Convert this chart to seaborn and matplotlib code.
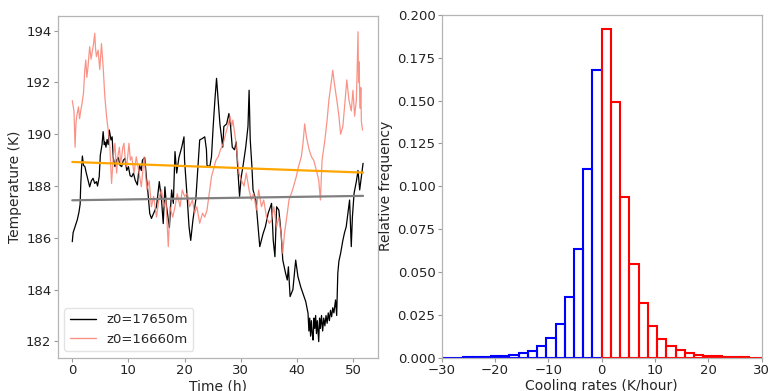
import numpy as np
import pandas as pd
import matplotlib
matplotlib.use("Agg")
import matplotlib.pyplot as plt
import seaborn as sns

# ---- temperature time series (hours, Kelvin) ----
time_a = [0.0, 0.15, 0.3, 0.6, 0.9, 1.2, 1.4, 1.5, 1.65, 1.8, 2.0, 2.25, 2.5, 2.85,
          3.1, 3.4, 3.7, 4.0, 4.3, 4.5, 4.8, 5.0, 5.3, 5.5, 5.7, 5.8, 6.0, 6.2, 6.4,
          6.6, 6.9, 7.1, 7.3, 7.6, 7.9, 8.2, 8.5, 8.8, 9.1, 9.4, 9.7, 10.0, 10.3, 10.6,
          10.9, 11.2, 11.6, 11.8, 12.0, 12.3, 12.5, 12.9, 13.2, 13.5, 13.8, 14.1, 14.5,
          15.0, 15.5, 15.9, 16.2, 16.5, 16.8, 17.3, 17.7, 18.0, 18.3, 18.6, 19.0, 19.5,
          19.9, 20.0, 20.5, 20.8, 21.1, 21.5, 22.0, 22.4, 22.7, 23.2, 23.6, 23.9, 24.0,
          24.5, 24.8, 25.1, 25.4, 25.7, 26.0, 26.3, 26.8, 27.0, 27.5, 27.9, 28.2, 28.5,
          28.9, 29.2, 29.5, 29.8, 30.1, 30.4, 30.9, 31.3, 31.5, 31.7, 32.0, 32.2, 32.7,
          33.1, 33.4, 34.0, 34.4, 34.9, 35.5, 35.8, 36.1, 36.4, 36.8, 37.2, 37.5, 38.0,
          38.3, 38.5, 38.8, 39.3, 39.8, 40.2, 40.7, 41.1, 41.6, 42.0, 42.15, 42.3, 42.45,
          42.6, 42.75, 42.9, 43.05, 43.2, 43.35, 43.5, 43.65, 43.9, 44.05, 44.2, 44.4,
          44.6, 44.8, 45.0, 45.2, 45.4, 45.6, 45.8, 46.0, 46.2, 46.4, 46.6, 46.9, 47.1,
          47.3, 47.5, 47.8, 48.2, 48.5, 48.8, 49.1, 49.4, 49.7, 49.9, 50.2, 50.6, 50.9,
          51.2, 51.5, 51.8]
temp_a = [185.85, 186.2, 186.3, 186.5, 186.7, 187.0, 187.3, 188.0, 188.7, 189.16,
          188.8, 188.75, 188.5, 188.2, 187.97, 188.2, 188.3, 188.1, 188.17, 188.0,
          188.36, 189.2, 189.6, 190.1, 189.6, 189.7, 189.5, 189.8, 189.6, 190.16,
          189.78, 189.9, 189.1, 188.75, 189.0, 189.1, 188.8, 188.75, 189.0, 189.07,
          188.6, 188.75, 188.4, 188.36, 188.5, 188.23, 188.04, 188.5, 188.8, 188.6,
          189.0, 189.1, 188.36, 187.7, 186.94, 186.75, 186.95, 187.2, 188.17, 187.46,
          186.55, 187.97, 187.2, 186.4, 187.85, 187.33, 189.33, 188.5, 189.1, 189.5,
          189.9, 189.0, 187.46, 186.43, 185.9, 186.7, 187.46, 188.75, 189.78, 189.84,
          189.9, 189.4, 188.8, 188.75, 189.13, 190.3, 191.3, 192.16, 191.3, 190.4,
          189.5, 190.3, 190.4, 190.8, 190.3, 189.5, 189.4, 189.7, 188.6, 187.6, 188.36,
          188.75, 189.5, 190.3, 191.7, 189.8, 188.75, 187.85, 187.46, 186.43, 185.66,
          186.17, 186.43, 186.95, 187.33, 185.9, 185.27, 187.2, 187.07, 186.17, 185.14,
          184.63, 184.37, 184.88, 183.73, 184.0, 185.14, 184.5, 184.1, 183.85, 183.53,
          183.08, 182.4, 182.9, 182.2, 182.8, 182.3, 182.05, 182.9, 182.5, 183.0, 182.3,
          182.8, 181.99, 182.9, 182.5, 183.0, 182.4, 182.9, 182.6, 183.0, 182.7, 183.1,
          182.8, 183.2, 182.95, 183.3, 183.1, 183.6, 183.0, 184.63, 185.1, 185.4, 185.9,
          186.2, 186.43, 186.95, 187.46, 185.66, 186.8, 187.72, 188.17, 188.6, 187.85,
          188.36, 188.88]

time_b = [0.0, 0.3, 0.5, 0.65, 0.8, 1.1, 1.3, 1.5, 1.75, 2.0, 2.2, 2.4, 2.6, 2.8, 3.1,
          3.35, 3.6, 3.8, 4.0, 4.15, 4.3, 4.6, 4.9, 5.2, 5.5, 5.8, 6.1, 6.4, 6.7, 7.0,
          7.3, 7.6, 7.9, 8.15, 8.4, 8.6, 8.8, 9.0, 9.2, 9.45, 9.7, 10.1, 10.35, 10.6,
          11.0, 11.4, 11.9, 12.3, 12.8, 13.0, 13.3, 13.7, 14.1, 14.5, 15.0, 15.5, 15.9,
          16.3, 16.7, 17.1, 17.4, 17.9, 18.3, 18.7, 19.2, 19.6, 20.0, 20.5, 20.9, 21.4,
          21.8, 22.2, 22.7, 23.2, 23.6, 24.0, 24.4, 24.8, 25.1, 25.6, 26.0, 26.4, 26.9,
          27.3, 27.8, 28.1, 28.4, 28.6, 29.1, 29.4, 29.7, 30.1, 30.6, 31.0, 31.5, 31.9,
          32.3, 32.8, 33.2, 33.7, 34.1, 34.6, 35.1, 35.5, 35.9, 36.4, 36.8, 37.2, 37.5,
          37.8, 38.3, 38.6, 39.0, 39.4, 39.9, 40.3, 40.8, 41.1, 41.4, 41.7, 42.2, 42.6,
          43.0, 43.5, 43.9, 44.2, 44.5, 45.0, 45.4, 45.7, 46.1, 46.4, 46.7, 47.2, 47.5,
          47.8, 48.2, 48.6, 48.9, 49.3, 49.7, 50.0, 50.3, 50.6, 50.75, 50.9, 51.0, 51.1,
          51.2, 51.3, 51.4, 51.5, 51.7]
temp_b = [191.3, 190.9, 189.5, 190.4, 190.7, 191.06, 190.6, 190.9, 191.2, 191.6, 192.4,
          192.87, 192.2, 192.6, 193.38, 192.9, 193.25, 193.5, 193.9, 193.3, 193.0,
          193.25, 192.5, 193.5, 192.6, 191.45, 190.7, 190.16, 189.5, 188.1, 189.13,
          189.65, 188.5, 189.2, 189.5, 188.9, 189.13, 189.5, 189.65, 189.0, 188.75,
          189.65, 189.0, 189.13, 188.5, 189.13, 188.5, 187.97, 189.13, 188.6, 187.85,
          188.2, 187.2, 187.6, 186.8, 187.6, 187.85, 187.2, 187.46, 185.66, 187.2, 186.8,
          187.2, 187.7, 187.2, 187.85, 187.6, 187.72, 187.2, 187.46, 186.95, 187.2,
          186.56, 186.95, 186.8, 187.07, 187.7, 188.36, 188.6, 189.0, 189.13, 189.4,
          189.65, 190.0, 190.4, 190.7, 190.3, 190.55, 189.78, 189.13, 188.5, 188.23,
          188.0, 188.5, 187.85, 187.46, 187.72, 187.07, 187.85, 187.2, 187.46, 186.8,
          186.56, 186.69, 187.2, 186.43, 186.8, 186.17, 185.4, 186.17, 186.95, 187.46,
          187.7, 187.97, 188.36, 188.75, 189.13, 189.65, 190.4, 189.9, 189.4, 189.13,
          189.0, 188.6, 188.23, 187.46, 189.0, 189.78, 190.55, 191.3, 191.95, 192.47,
          191.95, 191.2, 190.7, 190.0, 190.3, 191.3, 192.1, 191.3, 190.9, 191.7, 190.7,
          191.3, 192.5, 193.96, 192.0, 192.8, 191.5, 191.0, 191.8, 190.5, 190.16]

# linear trends of the two series
trend_time = [0.0, 51.8]
trend_a = [187.45, 187.62]
trend_b = [188.93, 188.52]

label_a = "z0=17650m"
label_b = "z0=16660m"

# ---- cooling-rate histogram (relative frequency per bin) ----
bin_width = 1.73
# bins counted outward from zero
warming_freq = [0.1676, 0.110, 0.0633, 0.0353, 0.0198, 0.0114, 0.0071, 0.0039, 0.0025,
                0.0018, 0.0012, 0.0008, 0.0006, 0.0004, 0.0002, 0.0001, 0.0, 0.0]
cooling_freq = [0.1918, 0.149, 0.0937, 0.0549, 0.0318, 0.0184, 0.011, 0.0071, 0.0043,
                0.0026, 0.0016, 0.0012, 0.0008, 0.0006, 0.0004, 0.0003, 0.0, 0.0]

sns.set_style("ticks", {"axes.edgecolor": "#b5b5b5"})
plt.rcParams.update({
    "font.family": ["DejaVu Sans"],
    "font.size": 9.5,
    "xtick.color": "#9a9a9a",
    "ytick.color": "#9a9a9a",
    "xtick.labelcolor": "#222222",
    "ytick.labelcolor": "#222222",
    "xtick.major.size": 3,
    "ytick.major.size": 3,
    "xtick.major.pad": 1.5,
    "ytick.major.pad": 1.5,
    "axes.linewidth": 0.9,
})

fig = plt.figure(figsize=(7.69, 3.91), dpi=100)
ax1 = fig.add_axes([0.0750, 0.0852, 0.4161, 0.8747])
ax2 = fig.add_axes([0.5744, 0.0852, 0.4161, 0.8766])

# left panel: temperature time series with trends
sns.lineplot(x=time_a, y=temp_a, color="black", lw=0.9, label=label_a, ax=ax1)
sns.lineplot(x=time_b, y=temp_b, color="salmon", lw=0.9, alpha=0.85, label=label_b, ax=ax1)
sns.lineplot(x=trend_time, y=trend_a, color="grey", lw=1.6, ax=ax1)
sns.lineplot(x=trend_time, y=trend_b, color="orange", lw=1.6, ax=ax1)
ax1.set_xlim(-2.6, 54.4)
ax1.set_ylim(181.37, 194.58)
ax1.set_yticks([182, 184, 186, 188, 190, 192, 194])
ax1.set_xticks([0, 10, 20, 30, 40, 50])
ax1.set_xlabel("Time (h)", fontsize=10, labelpad=1.5)
ax1.set_ylabel("Temperature (K)", fontsize=10, labelpad=3)
ax1.tick_params(labelsize=9.5)
leg = ax1.legend(loc="lower left", fontsize=9.5, frameon=True, borderaxespad=0.5)
leg.get_frame().set_edgecolor("#dddddd")
for h in leg.get_lines():
    h.set_linewidth(1.0)

# right panel: histogram of heating (blue) and cooling (red) rates
n = len(warming_freq)
warm_edges = list(-bin_width * np.arange(n + 1)[::-1])
cool_edges = list(bin_width * np.arange(n + 1))
warm_df = pd.DataFrame({
    "rate": [(a + b) / 2 for a, b in zip(warm_edges[:-1], warm_edges[1:])],
    "freq": warming_freq[::-1],
})
cool_df = pd.DataFrame({
    "rate": [(a + b) / 2 for a, b in zip(cool_edges[:-1], cool_edges[1:])],
    "freq": cooling_freq,
})

sns.histplot(data=warm_df, x="rate", weights="freq", bins=warm_edges, fill=False,
             color="blue", linewidth=1.5, ax=ax2)
sns.histplot(data=cool_df, x="rate", weights="freq", bins=cool_edges, fill=False,
             color="red", linewidth=1.5, ax=ax2)
ax2.set_xlim(-30, 30)
ax2.set_ylim(0, 0.2)
ax2.set_yticks(np.arange(0, 0.2001, 0.025))
ax2.yaxis.set_major_formatter(matplotlib.ticker.FormatStrFormatter("%.3f"))
ax2.set_xlabel("Cooling rates (K/hour)", fontsize=10, labelpad=1.5)
ax2.set_ylabel("Relative frequency", fontsize=10, labelpad=3)
ax2.tick_params(labelsize=9.5)

for ax in (ax1, ax2):
    for s in ax.spines.values():
        s.set_visible(True)
        s.set_color("#b5b5b5")

fig.savefig("out.png", dpi=100)
